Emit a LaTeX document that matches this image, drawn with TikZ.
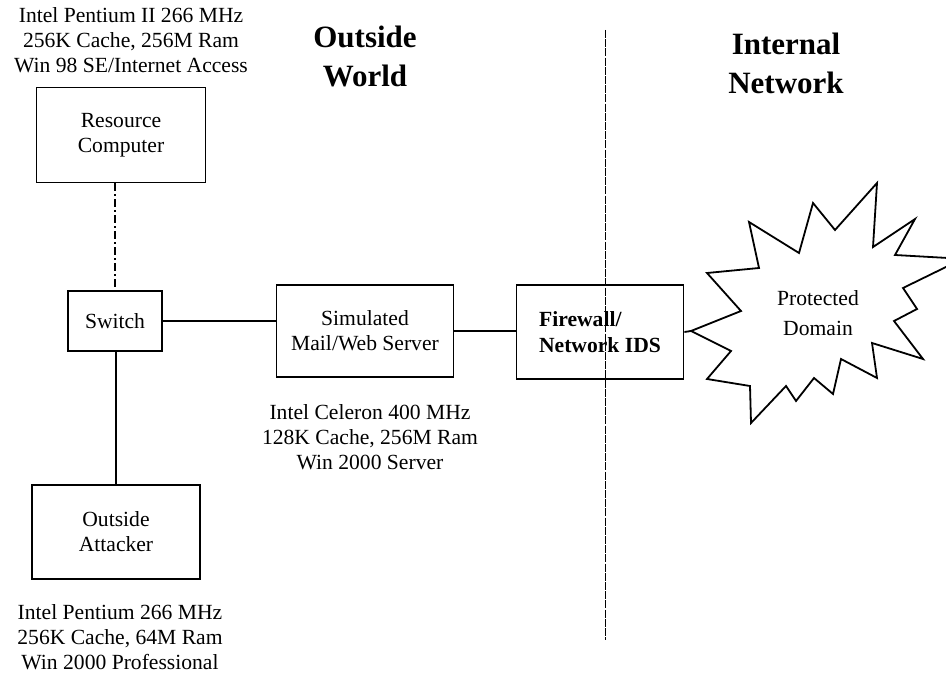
\documentclass[tikz,border=0pt]{standalone}
\usepackage{fontspec}
\setmainfont{Liberation Serif}
\usetikzlibrary{arrows.meta}

\begin{document}
\begin{tikzpicture}[x=0.5pt, y=-0.5pt, every node/.style={font=\fontsize{10.8}{12.5}\selectfont, align=center}, box/.style={draw, line width=0.9pt, inner sep=2pt}, title/.style={font=\fontsize{15.5}{19.5}\selectfont\bfseries}, link/.style={line width=0.9pt}]
	\useasboundingbox (0,0) rectangle (946,673);
	\node[title] (ow) at (365,56) {Outside\\World};
	\node[title] (in) at (786,63) {Internal\\Network};
	\coordinate (divtop) at (605,30);
	\coordinate (divbot) at (605,640);
	\draw[line width=0.45pt, dash pattern=on 4pt off 0.6pt] (divtop) -- (divbot);
	\node[box, minimum width=84.5pt, minimum height=47.5pt] (rc) at (121,135) {Resource\\Computer};
	\node (rcspec) at (131,40) {Intel Pentium II 266 MHz\\256K Cache, 256M Ram\\Win 98 SE/Internet Access};
	\node[box, minimum width=47pt, minimum height=30pt] (sw) at (115,321) {Switch};
	\node[box, minimum width=88.5pt, minimum height=46pt] (srv) at (365,331) {Simulated\\Mail/Web Server};
	\node (srvspec) at (370,437) {Intel Celeron 400 MHz\\128K Cache, 256M Ram\\Win 2000 Server};
	\node[box, minimum width=83.5pt, minimum height=47pt, align=left, font=\fontsize{10.8}{13}\selectfont\bfseries] (fw) at (600,332) {Firewall/\\Network IDS};
	\node[box, minimum width=84pt, minimum height=47pt] (atk) at (116,532) {Outside\\Attacker};
	\node (atkspec) at (120,637) {Intel Pentium 266 MHz\\256K Cache, 64M Ram\\Win 2000 Professional};
	\draw[line width=0.9pt] (691,331) -- (741,311) -- (707,273) -- (759,268) -- (749,222) -- (799,253) -- (813,203) -- (835,230) -- (877,183) -- (873,247) -- (915,219) -- (895,255) -- (948,258) -- (948,266) -- (903,288) -- (917,309) -- (894,321) -- (923,359) -- (872,343) -- (877,378) -- (841,359) -- (833,394) -- (814,378) -- (796,401) -- (786,386) -- (751,423) -- (750,386) -- (707,379) -- (731,351) -- cycle;
	\coordinate (dom) at (691,331);
	\node[font=\fontsize{10.8}{15}\selectfont] (domtxt) at (818,313) {Protected\\Domain};
	\draw[link, dash pattern=on 4pt off 1.5pt on 1pt off 1.5pt] (rc.south -| sw.north) -- (sw.north);
	\draw[link] (sw.east) -- (sw.east -| srv.west);
	\draw[link] (srv.east) -- (srv.east -| fw.west);
	\draw[link] (fw.east) -- (dom);
	\draw[link] (sw.south -| atk.north) -- (atk.north);
\end{tikzpicture}
\end{document}
